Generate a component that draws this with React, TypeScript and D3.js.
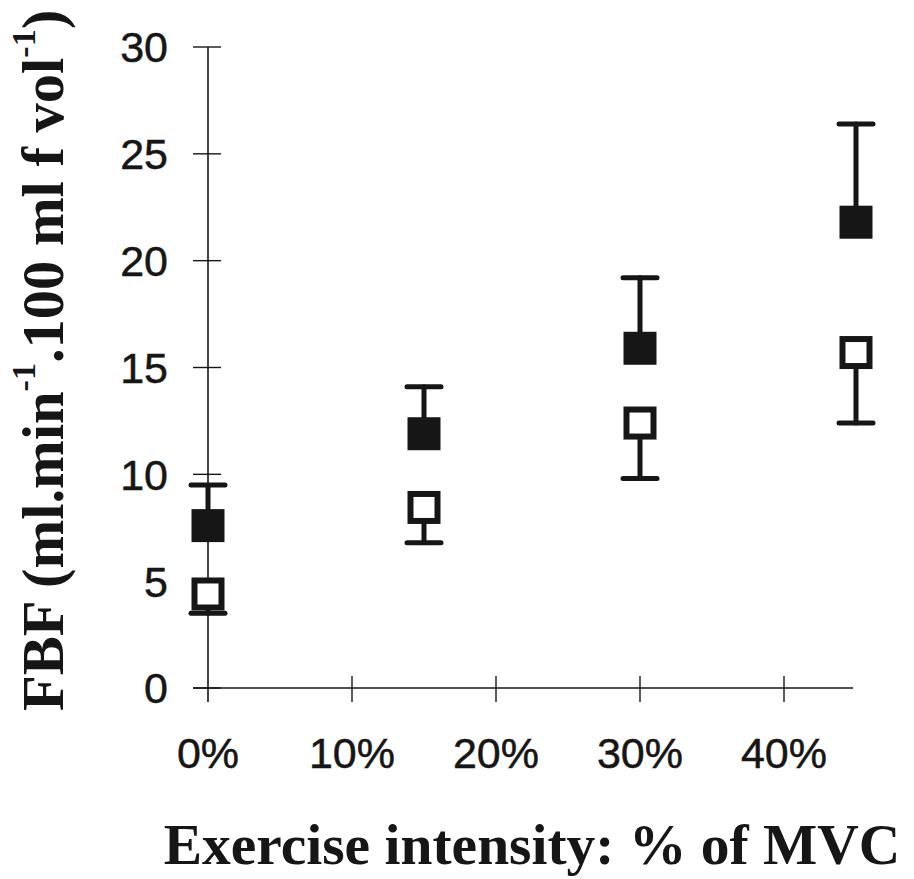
import React from "react";
import * as d3 from "d3";

const xTicks = [0, 10, 20, 30, 40];
const xTickLabels = ["0%", "10%", "20%", "30%", "40%"];
const yTicks = [0, 5, 10, 15, 20, 25, 30];
const intensity = [0, 15, 30, 45];
const filledMean = [7.6, 11.9, 15.9, 21.8];
const filledUpper = [9.5, 14.1, 19.2, 26.4];
const openMean = [4.4, 8.45, 12.4, 15.7];
const openLower = [3.5, 6.8, 9.8, 12.4];

const W = 914;
const H = 879;
const INK = "#161616";

export default function App() {
  const x = d3.scaleLinear().domain([0, 40]).range([208, 784]);
  const y = d3.scaleLinear().domain([0, 30]).range([688, 47]);
  const x0 = x(0);
  const xEnd = x(44.8);
  const sq = 33;
  const capW = 34;
  const titleSize = 58.5;
  const supSize = 34;
  const supShift = 28;

  return (
    <svg
      width={W}
      height={H}
      viewBox={`0 0 ${W} ${H}`}
      style={{ position: "absolute", left: 0, top: 0, background: "#fff" }}
    >
      {/* axes */}
      <line x1={x0} x2={x0} y1={y(30)} y2={y(0) + 14} stroke={INK} strokeWidth={1.6} />
      <line x1={x0 - 15} x2={xEnd} y1={y(0)} y2={y(0)} stroke={INK} strokeWidth={1.6} />
      {yTicks.map((t) => (
        <g key={"yt" + t}>
          <line x1={x0 - 15} x2={x0 + 13} y1={y(t)} y2={y(t)} stroke={INK} strokeWidth={1.4} />
          <text
            x={168}
            y={y(t)}
            dy="0.36em"
            textAnchor="end"
            fontFamily="'Liberation Sans', Arial, sans-serif"
            fontSize={43}
            fill={INK}
            stroke={INK}
            strokeWidth={0.5}
          >
            {t}
          </text>
        </g>
      ))}
      {xTicks.map((t, i) => (
        <g key={"xt" + t}>
          {t > 0 && (
            <line x1={x(t)} x2={x(t)} y1={y(0) - 12} y2={y(0) + 14} stroke={INK} strokeWidth={1.4} />
          )}
          <text
            x={x(t)}
            y={768}
            textAnchor="middle"
            fontFamily="'Liberation Sans', Arial, sans-serif"
            fontSize={43}
            fill={INK}
            stroke={INK}
            strokeWidth={0.5}
          >
            {xTickLabels[i]}
          </text>
        </g>
      ))}

      {/* error bars */}
      {intensity.map((v, i) => (
        <g key={"eb" + v} stroke={INK} strokeWidth={5} strokeLinecap="round">
          <line x1={x(v)} x2={x(v)} y1={y(filledMean[i])} y2={y(filledUpper[i])} />
          <line x1={x(v) - capW / 2} x2={x(v) + capW / 2} y1={y(filledUpper[i])} y2={y(filledUpper[i])} />
          <line x1={x(v)} x2={x(v)} y1={y(openMean[i])} y2={y(openLower[i])} />
          <line x1={x(v) - capW / 2} x2={x(v) + capW / 2} y1={y(openLower[i])} y2={y(openLower[i])} />
        </g>
      ))}

      {/* markers */}
      {intensity.map((v, i) => (
        <rect
          key={"f" + v}
          x={x(v) - sq / 2}
          y={y(filledMean[i]) - sq / 2}
          width={sq}
          height={sq}
          fill={INK}
        />
      ))}
      {intensity.map((v, i) => (
        <rect
          key={"o" + v}
          x={x(v) - (sq - 6) / 2}
          y={y(openMean[i]) - (sq - 6) / 2}
          width={sq - 6}
          height={sq - 6}
          fill="#fff"
          stroke={INK}
          strokeWidth={6}
        />
      ))}

      {/* axis titles */}
      <text
        x={532}
        y={864}
        textAnchor="middle"
        fontFamily="'Liberation Serif', 'Times New Roman', serif"
        fontWeight="bold"
        fontSize={57.5}
        fill={INK}
      >
        Exercise intensity: % of MVC
      </text>
      <text
        transform="translate(63, 711) rotate(-90)"
        textAnchor="start"
        fontFamily="'Liberation Serif', 'Times New Roman', serif"
        fontWeight="bold"
        fontSize={titleSize}
        fill={INK}
      >
        FBF (ml.min
        <tspan fontSize={supSize} dy={-supShift}>-1</tspan>
        <tspan dy={supShift}>.100 ml f vol</tspan>
        <tspan fontSize={supSize} dy={-supShift}>-1</tspan>
        <tspan dy={supShift}>)</tspan>
      </text>
    </svg>
  );
}
